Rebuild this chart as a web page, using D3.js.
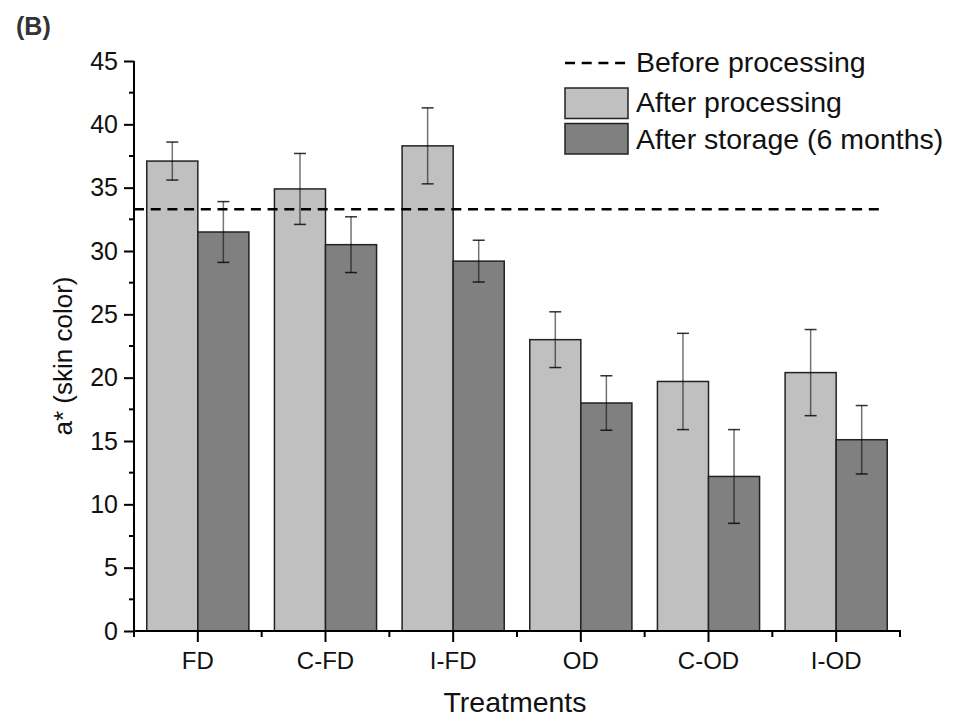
<!DOCTYPE html>
<html>
<head>
<meta charset="utf-8">
<script src="https://cdn.jsdelivr.net/npm/d3@7"></script>
<style>
  body { margin: 0; background: #fff; }
  svg { font-family: Arial, "Liberation Sans", sans-serif; }
</style>
</head>
<body>
<svg width="955" height="717"></svg>
<script>
// treatments and values
var treatments = ["FD", "C-FD", "I-FD", "OD", "C-OD", "I-OD"];
var seriesNames = ["After processing", "After storage (6 months)"];
var afterProcessing = [37.1, 34.9, 38.3, 23.0, 19.7, 20.4];
var afterProcessingErr = [1.5, 2.8, 3.0, 2.2, 3.8, 3.4];
var afterStorage = [31.5, 30.5, 29.2, 18.0, 12.2, 15.1];
var afterStorageErr = [2.4, 2.2, 1.65, 2.15, 3.7, 2.7];
var beforeProcessing = 33.3;
var yTicks = [0, 5, 10, 15, 20, 25, 30, 35, 40, 45];

var colors = ["#c0c0c0", "#808080"];

var svg = d3.select("svg");
var plotLeft = 134, plotRight = 900, plotTop = 61, plotBottom = 631;

var x0 = d3.scaleBand().domain(treatments).range([plotLeft, plotRight]);
var x1 = d3.scaleBand().domain(seriesNames).range([0, x0.bandwidth()]).paddingOuter(0.25);
var y = d3.scaleLinear().domain([0, 45]).range([plotBottom, plotTop]);

// flatten into rows for drawing
var rows = [];
treatments.forEach(function(t, i) {
  rows.push({ t: t, s: seriesNames[0], v: afterProcessing[i], e: afterProcessingErr[i], c: colors[0] });
  rows.push({ t: t, s: seriesNames[1], v: afterStorage[i], e: afterStorageErr[i], c: colors[1] });
});

// bars
svg.append("g").selectAll("rect")
  .data(rows)
  .enter().append("rect")
  .attr("x", function(d) { return x0(d.t) + x1(d.s); })
  .attr("y", function(d) { return y(d.v); })
  .attr("width", x1.bandwidth())
  .attr("height", function(d) { return y(0) - y(d.v); })
  .attr("fill", function(d) { return d.c; })
  .attr("stroke", "#222")
  .attr("stroke-width", 1.5);

// error bars
var eb = svg.append("g").selectAll("g")
  .data(rows)
  .enter().append("g")
  .attr("transform", function(d) { return "translate(" + (x0(d.t) + x1(d.s) + x1.bandwidth() / 2) + ",0)"; });
eb.append("line")
  .attr("y1", function(d) { return y(d.v + d.e); })
  .attr("y2", function(d) { return y(d.v - d.e); })
  .attr("stroke", "#000").attr("stroke-opacity", 0.55).attr("stroke-width", 1.5);
eb.append("line")
  .attr("x1", -6).attr("x2", 6)
  .attr("y1", function(d) { return y(d.v + d.e); })
  .attr("y2", function(d) { return y(d.v + d.e); })
  .attr("stroke", "#000").attr("stroke-opacity", 0.8).attr("stroke-width", 1.5);
eb.append("line")
  .attr("x1", -6).attr("x2", 6)
  .attr("y1", function(d) { return y(d.v - d.e); })
  .attr("y2", function(d) { return y(d.v - d.e); })
  .attr("stroke", "#000").attr("stroke-opacity", 0.8).attr("stroke-width", 1.5);

// before processing reference line
svg.append("line")
  .attr("x1", plotLeft).attr("x2", 882)
  .attr("y1", y(beforeProcessing)).attr("y2", y(beforeProcessing))
  .attr("stroke", "#000").attr("stroke-width", 2.5)
  .attr("stroke-dasharray", "10,6.7");

// y axis
var yAxis = svg.append("g")
  .attr("transform", "translate(" + plotLeft + ",0)")
  .call(d3.axisLeft(y).tickValues(yTicks).tickSize(10).tickSizeOuter(0).tickPadding(6));
yAxis.select(".domain").attr("stroke-width", 2).attr("d", "M0," + plotTop + "V" + (plotBottom + 4));
yAxis.selectAll(".tick line").attr("stroke-width", 2);
yAxis.selectAll(".tick text").attr("font-size", 25).attr("fill", "#111").attr("font-family", null);
yAxis.selectAll(".minor")
  .data(yTicks.slice(0, -1))
  .enter().append("line")
  .attr("class", "minor")
  .attr("x1", -5).attr("x2", 0)
  .attr("y1", function(d) { return y(d + 2.5); })
  .attr("y2", function(d) { return y(d + 2.5); })
  .attr("stroke", "#000").attr("stroke-width", 2);

// x axis
var xAxis = svg.append("g")
  .attr("transform", "translate(0," + plotBottom + ")")
  .call(d3.axisBottom(x0).tickSize(11).tickSizeOuter(0).tickPadding(10));
xAxis.select(".domain").attr("stroke-width", 2).attr("d", "M" + (plotLeft - 1) + ",0H" + (plotRight + 1));
xAxis.selectAll(".tick line").attr("stroke-width", 2);
xAxis.selectAll(".tick text").attr("font-size", 24).attr("fill", "#111").attr("font-family", null);
xAxis.selectAll(".minor")
  .data(d3.range(treatments.length + 1))
  .enter().append("line")
  .attr("class", "minor")
  .attr("x1", function(i) { return plotLeft + i * x0.step(); })
  .attr("x2", function(i) { return plotLeft + i * x0.step(); })
  .attr("y1", 0).attr("y2", 6)
  .attr("stroke", "#000").attr("stroke-width", 2);

// axis titles
svg.append("text")
  .attr("x", 515).attr("y", 712)
  .attr("text-anchor", "middle")
  .attr("font-size", 28.5).attr("fill", "#111")
  .text("Treatments");
svg.append("text")
  .attr("transform", "translate(72,356) rotate(-90)")
  .attr("text-anchor", "middle")
  .attr("font-size", 26).attr("fill", "#111")
  .text("a* (skin color)");

// panel label
svg.append("text")
  .attr("x", 16).attr("y", 35)
  .attr("font-size", 25).attr("font-weight", "bold").attr("fill", "#333")
  .text("(B)");

// legend
var legend = svg.append("g");
legend.append("line")
  .attr("x1", 565).attr("x2", 627).attr("y1", 63).attr("y2", 63)
  .attr("stroke", "#000").attr("stroke-width", 2.5).attr("stroke-dasharray", "10,6.7");
legend.append("text").attr("x", 636).attr("y", 72)
  .attr("font-size", 28.5).attr("fill", "#111").text("Before processing");
seriesNames.forEach(function(s, i) {
  legend.append("rect")
    .attr("x", 565).attr("y", 88 + i * 35.5)
    .attr("width", 63).attr("height", 30.5)
    .attr("fill", colors[i]).attr("stroke", "#222").attr("stroke-width", 1.5);
  legend.append("text").attr("x", 636).attr("y", 112 + i * 36.5)
    .attr("font-size", 28.5).attr("fill", "#111").text(s);
});
</script>
</body>
</html>
